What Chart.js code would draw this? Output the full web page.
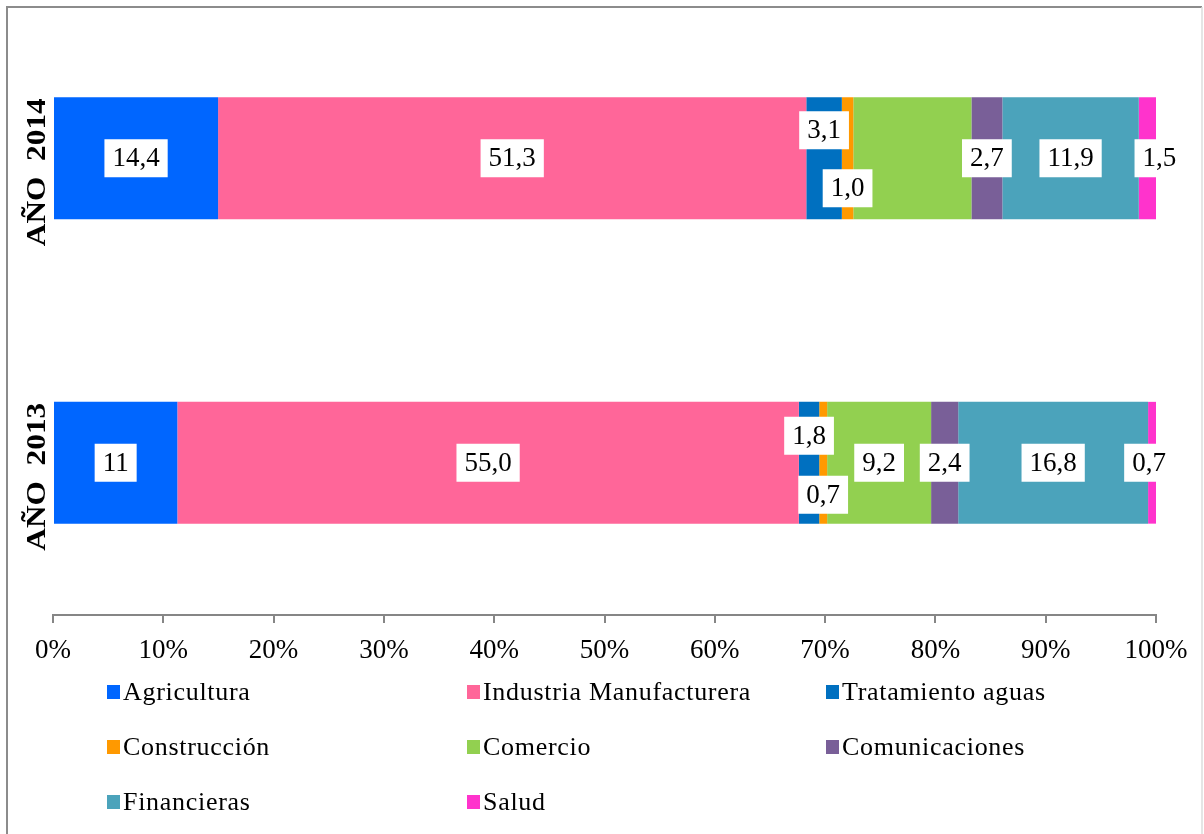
<!DOCTYPE html>
<html lang="es">
<head>
<meta charset="UTF-8">
<title>Estructura por sector</title>
<script src="https://cdn.jsdelivr.net/npm/chart.js"></script>
<style>
  html, body { margin: 0; padding: 0; background: #fff; }
  #wrap { width: 1204px; height: 834px; }
</style>
</head>
<body>
<div id="wrap"><canvas id="grafico" width="1204" height="834"></canvas></div>
<script>
// datos (valores originales, se normalizan a 100%)
const categorias = ['AÑO  2014', 'AÑO  2013'];
const agricultura = [14.4, 11];
const industria = [51.3, 55.0];
const tratamiento = [3.1, 1.8];
const construccion = [1.0, 0.7];
const comercio = [10.3, 9.2];
const comunicaciones = [2.7, 2.4];
const financieras = [11.9, 16.8];
const salud = [1.5, 0.7];
const ticksX = [0, 10, 20, 30, 40, 50, 60, 70, 80, 90, 100];

const serif = '"Liberation Serif", "Times New Roman", serif';

const series = [
  { nombre: 'Agricultura', datos: agricultura, color: '#0066FF', decimales: [1, 0] },
  { nombre: 'Industria Manufacturera', datos: industria, color: '#FF6699' },
  { nombre: 'Tratamiento aguas', datos: tratamiento, color: '#0070C0', dy: [-28, -27] },
  { nombre: 'Construcción', datos: construccion, color: '#FF9900', dy: [30, 32] },
  { nombre: 'Comercio', datos: comercio, color: '#92D050', ocultar: [true, false] },
  { nombre: 'Comunicaciones', datos: comunicaciones, color: '#795F98' },
  { nombre: 'Financieras', datos: financieras, color: '#4BA3BB' },
  { nombre: 'Salud', datos: salud, color: '#FF33CC', dx: [12, -3] }
];

// totales por año para el 100% apilado
const totales = categorias.map((c, i) => series.reduce((s, se) => s + se.datos[i], 0));

const datasets = series.map(se => ({
  label: se.nombre,
  data: se.datos.map((v, i) => v / totales[i] * 100),
  backgroundColor: se.color,
  borderWidth: 0,
  barPercentage: 0.4,
  categoryPercentage: 1
}));

function texto(se, i) {
  const d = se.decimales ? se.decimales[i] : 1;
  return se.datos[i].toFixed(d).replace('.', ',');
}

const marcoYEtiquetas = {
  id: 'marcoYEtiquetas',
  beforeDraw(chart) {
    const ctx = chart.ctx;
    ctx.save();
    ctx.fillStyle = '#fff';
    ctx.fillRect(0, 0, chart.width, chart.height);
    ctx.strokeStyle = '#8c8c8c';
    ctx.lineWidth = 2;
    ctx.beginPath();
    ctx.moveTo(7, chart.height);
    ctx.lineTo(7, 7);
    ctx.lineTo(1202, 7);
    ctx.stroke();
    ctx.strokeStyle = '#dcdcdc';
    ctx.lineWidth = 1.5;
    ctx.beginPath();
    ctx.moveTo(1202, 7);
    ctx.lineTo(1202, chart.height);
    ctx.stroke();
    ctx.restore();
  },
  afterDraw(chart) {
    const ctx = chart.ctx;
    const yScale = chart.scales.y;
    ctx.save();

    // etiquetas de categoria giradas (ancho ajustado como en el original)
    ctx.fillStyle = '#000';
    ctx.font = 'bold 27px ' + serif;
    ctx.textAlign = 'left';
    ctx.textBaseline = 'middle';
    categorias.forEach((c, i) => {
      const y = yScale.getPixelForValue(i) + 88;
      const ancho = ctx.measureText(c).width;
      ctx.save();
      ctx.translate(38, y);
      ctx.rotate(-Math.PI / 2);
      ctx.scale(148 / ancho, 1);
      ctx.fillText(c, 0, 0);
      ctx.restore();
    });

    // etiquetas de datos en cajas blancas
    ctx.font = '27px ' + serif;
    ctx.textAlign = 'center';
    series.forEach((se, k) => {
      const meta = chart.getDatasetMeta(k);
      meta.data.forEach((bar, i) => {
        if (se.ocultar && se.ocultar[i]) return;
        const t = texto(se, i);
        const x = (bar.x + bar.base) / 2 + (se.dx ? se.dx[i] : 0);
        const y = bar.y + (se.dy ? se.dy[i] : 0);
        const w = ctx.measureText(t).width + 16;
        const h = 38;
        ctx.fillStyle = '#fff';
        ctx.fillRect(x - w / 2, y - h / 2, w, h);
        ctx.fillStyle = '#000';
        ctx.fillText(t, x, y + 1);
      });
    });

    // leyenda en tres columnas
    const colX = [107, 467, 826];
    const filaY = [692, 747, 802];
    ctx.font = '26px ' + serif;
    ctx.letterSpacing = '0.7px';
    ctx.textAlign = 'left';
    series.forEach((se, k) => {
      const x = colX[k % 3];
      const y = filaY[Math.floor(k / 3)];
      ctx.fillStyle = se.color;
      ctx.fillRect(x, y - 7, 13, 14);
      ctx.fillStyle = '#000';
      ctx.fillText(se.nombre, x + 16, y + 1);
    });
    ctx.restore();
  }
};

new Chart(document.getElementById('grafico'), {
  type: 'bar',
  data: { labels: categorias, datasets },
  options: {
    indexAxis: 'y',
    responsive: false,
    animation: false,
    layout: { padding: { top: 6, left: 53, right: 48, bottom: 159 } },
    plugins: {
      legend: { display: false },
      tooltip: { enabled: false }
    },
    scales: {
      x: {
        stacked: true,
        min: 0,
        max: 100,
        afterBuildTicks: s => { s.ticks = ticksX.map(v => ({ value: v })); },
        afterFit: s => { s.height = 60; },
        border: { display: true, color: '#868686', width: 2 },
        grid: { drawOnChartArea: false, drawTicks: true, tickLength: 8, tickColor: '#868686', lineWidth: 2 },
        ticks: {
          color: '#000',
          padding: 12,
          maxRotation: 0,
          font: { family: serif, size: 27 },
          callback: v => v + '%'
        }
      },
      y: {
        stacked: true,
        afterFit: s => { s.width = 0; },
        border: { display: false },
        grid: { display: false },
        ticks: { display: false }
      }
    }
  },
  plugins: [marcoYEtiquetas]
});
</script>
</body>
</html>
